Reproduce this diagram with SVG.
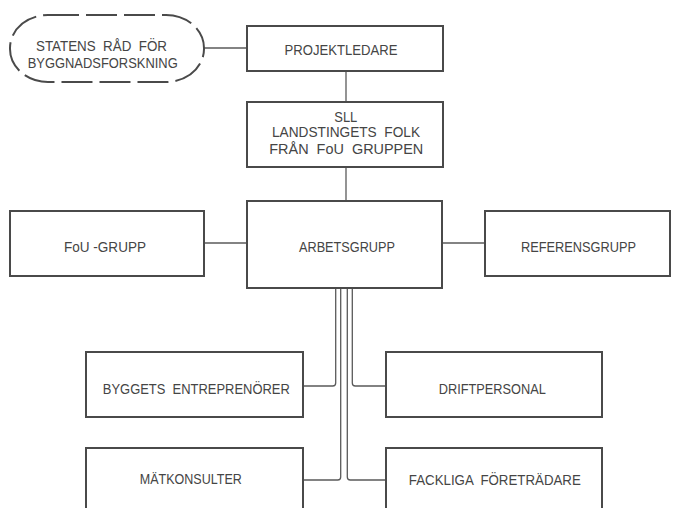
<svg xmlns="http://www.w3.org/2000/svg" width="673" height="508" viewBox="0 0 673 508">
<style>
.bg{fill:#ffffff}
.box{fill:none;stroke:#4a4a4a;stroke-width:2}
.dash{fill:none;stroke:#4a4a4a;stroke-width:2;stroke-dasharray:31 7}
.con{fill:none;stroke:#5a5a5a;stroke-width:1.3}
text{font-family:"Liberation Sans",Arial,sans-serif;font-size:14.5px;fill:#454545;text-anchor:middle;white-space:pre}
</style>
<rect class="bg" x="0" y="0" width="673" height="508"/>
<g id="connectors">
<line class="con" x1="204" y1="48" x2="247" y2="48"/>
<line class="con" x1="346" y1="71" x2="346" y2="102"/>
<line class="con" x1="346" y1="167" x2="346" y2="201"/>
<line class="con" x1="204" y1="243" x2="247" y2="243"/>
<line class="con" x1="442" y1="243" x2="485" y2="243"/>
<path class="con" d="M335.7,288 V383 Q335.7,386 332.7,386 H303"/>
<path class="con" d="M340.7,288 V477 Q340.7,480 337.7,480 H303"/>
<path class="con" d="M347.3,288 V477 Q347.3,480 350.3,480 H386"/>
<path class="con" d="M352.3,288 V383 Q352.3,386 355.3,386 H386"/>
</g>
<g id="statens">
<rect class="dash" x="10" y="15" width="194" height="67" rx="38" ry="33"/>
<text x="101.5" y="51" textLength="131" lengthAdjust="spacingAndGlyphs">STATENS  RÅD  FÖR</text>
<text x="102.7" y="68" textLength="150" lengthAdjust="spacingAndGlyphs">BYGGNADSFORSKNING</text>
</g>
<g id="projektledare">
<rect class="box" x="247" y="26" width="196" height="45"/>
<text x="341" y="55" textLength="113" lengthAdjust="spacingAndGlyphs">PROJEKTLEDARE</text>
</g>
<g id="sll">
<rect class="box" x="247" y="102" width="196" height="65"/>
<text x="345.8" y="121.5" textLength="23" lengthAdjust="spacingAndGlyphs">SLL</text>
<text x="346" y="137.3" textLength="148" lengthAdjust="spacingAndGlyphs">LANDSTINGETS  FOLK</text>
<text x="346.3" y="154" textLength="154" lengthAdjust="spacingAndGlyphs">FRÅN  FoU  GRUPPEN</text>
</g>
<g id="fougrupp">
<rect class="box" x="10" y="211" width="194" height="65"/>
<text x="105" y="252" textLength="82" lengthAdjust="spacingAndGlyphs">FoU -GRUPP</text>
</g>
<g id="arbetsgrupp">
<rect class="box" x="247" y="201" width="195" height="87"/>
<text x="347" y="251.7" textLength="96" lengthAdjust="spacingAndGlyphs">ARBETSGRUPP</text>
</g>
<g id="referensgrupp">
<rect class="box" x="485" y="211" width="185" height="65"/>
<text x="578.5" y="251.7" textLength="115" lengthAdjust="spacingAndGlyphs">REFERENSGRUPP</text>
</g>
<g id="byggets">
<rect class="box" x="86" y="352" width="217" height="65"/>
<text x="196.3" y="394" textLength="187" lengthAdjust="spacingAndGlyphs">BYGGETS  ENTREPRENÖRER</text>
</g>
<g id="driftpersonal">
<rect class="box" x="386" y="352" width="216" height="65"/>
<text x="492.3" y="394" textLength="107" lengthAdjust="spacingAndGlyphs">DRIFTPERSONAL</text>
</g>
<g id="matkonsulter">
<rect class="box" x="86" y="448" width="217" height="75"/>
<text x="190.8" y="484" textLength="102" lengthAdjust="spacingAndGlyphs">MÄTKONSULTER</text>
</g>
<g id="fackliga">
<rect class="box" x="386" y="448" width="216" height="75"/>
<text x="494.8" y="485" textLength="172" lengthAdjust="spacingAndGlyphs">FACKLIGA  FÖRETRÄDARE</text>
</g>
</svg>
